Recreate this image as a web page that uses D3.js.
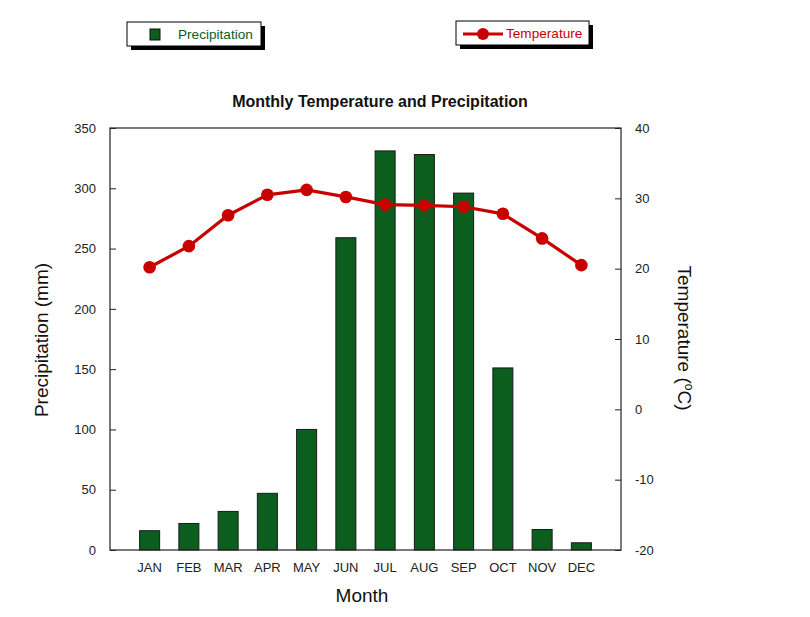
<!DOCTYPE html>
<html><head><meta charset="utf-8">
<script src="https://cdn.jsdelivr.net/npm/d3@7/dist/d3.min.js"></script>
<style>body{margin:0;background:#fff;} text{font-family:"Liberation Sans",Arial,sans-serif;}</style>
</head><body><svg id="c" width="810" height="617"></svg>
<script>
const months = ["JAN","FEB","MAR","APR","MAY","JUN","JUL","AUG","SEP","OCT","NOV","DEC"];
const precipitation = [16,22,32,47,100,259,331,328,296,151,17,6];
const temperature = [20.2,23.2,27.6,30.5,31.2,30.2,29.1,29.0,28.8,27.8,24.3,20.5];
const precipTicks = [0,50,100,150,200,250,300,350];
const tempTicks = [-20,-10,0,10,20,30,40];

const svg = d3.select("#c");
const L=110, R=621, T=128, B=550;
const x = d3.scaleBand().domain(months).range([L+20, R-20]).paddingInner(0.49).paddingOuter(0.245);
const yP = d3.scaleLinear().domain([0,350]).range([B,T]);
const yT = d3.scaleLinear().domain([-20,40]).range([B,T]);
const barColor = "#0b5e1e", lineColor = "#c80000";

// bars
svg.append("g").selectAll("rect").data(months).join("rect")
  .attr("x", d=>x(d)).attr("width", x.bandwidth())
  .attr("y", (d,i)=>yP(precipitation[i])).attr("height",(d,i)=>B-yP(precipitation[i]))
  .attr("fill", barColor).attr("stroke","#1a1a1a").attr("stroke-width",1);

// frame
svg.append("rect").attr("x",L).attr("y",T).attr("width",R-L).attr("height",B-T)
  .attr("fill","none").attr("stroke","#222").attr("stroke-width",1.2);

const fmt = d=>String(d);
// left axis
const la = svg.append("g").attr("transform",`translate(${L},0)`)
  .call(d3.axisLeft(yP).tickValues(precipTicks).tickFormat(fmt).tickSize(-6).tickPadding(14));
la.select(".domain").remove();
la.selectAll("text").attr("font-size",13).attr("fill","#222").style("font-family","Liberation Sans, Arial");
la.selectAll("line").attr("stroke","#222");

// right axis
const ra = svg.append("g").attr("transform",`translate(${R},0)`)
  .call(d3.axisRight(yT).tickValues(tempTicks).tickFormat(fmt).tickSize(-6).tickPadding(14));
ra.select(".domain").remove();
ra.selectAll("text").attr("font-size",13).attr("fill","#222").style("font-family","Liberation Sans, Arial");
ra.selectAll("line").attr("stroke","#222");

// bottom axis
const ba = svg.append("g").attr("transform",`translate(0,${B})`)
  .call(d3.axisBottom(x).tickSize(0).tickPadding(13));
ba.select(".domain").remove();
ba.selectAll("text").attr("font-size",13).attr("fill","#222").style("font-family","Liberation Sans, Arial");

// line
const cx = d=>x(d)+x.bandwidth()/2;
svg.append("path").datum(months)
  .attr("d", d3.line().x(d=>cx(d)).y((d,i)=>yT(temperature[i])))
  .attr("fill","none").attr("stroke",lineColor).attr("stroke-width",3.2);
svg.append("g").selectAll("circle").data(months).join("circle")
  .attr("cx", d=>cx(d)).attr("cy",(d,i)=>yT(temperature[i])).attr("r",6.3).attr("fill",lineColor);

// title & labels
svg.append("text").attr("x",380).attr("y",107).attr("text-anchor","middle")
  .attr("font-size",16).attr("font-weight","bold").attr("fill","#111").text("Monthly Temperature and Precipitation");
svg.append("text").attr("x",362).attr("y",602).attr("text-anchor","middle")
  .attr("font-size",19).attr("fill","#111").text("Month");
svg.append("text").attr("transform","translate(48,340) rotate(-90)").attr("text-anchor","middle")
  .attr("font-size",19).attr("fill","#111").text("Precipitation (mm)");
const tl = svg.append("text").attr("transform","translate(678,338) rotate(90)").attr("text-anchor","middle")
  .attr("font-size",19).attr("fill","#111");
tl.append("tspan").text("Temperature (");
tl.append("tspan").attr("font-size",12).attr("dy",-7).text("o");
tl.append("tspan").attr("dy",7).text("C)");

// legends
function legendBox(x0,y0,w,h){
  svg.append("rect").attr("x",x0+4).attr("y",y0+4).attr("width",w).attr("height",h).attr("fill","#000");
  svg.append("rect").attr("x",x0).attr("y",y0).attr("width",w).attr("height",h).attr("fill","#fff").attr("stroke","#000").attr("stroke-width",1);
}
legendBox(127,22,134,24);
svg.append("rect").attr("x",150).attr("y",29).attr("width",10).attr("height",11).attr("fill",barColor).attr("stroke","#111");
svg.append("text").attr("x",178).attr("y",39).attr("font-size",13.6).attr("fill",barColor).text("Precipitation");

legendBox(456,21,133,24);
svg.append("line").attr("x1",463).attr("x2",503).attr("y1",34).attr("y2",34).attr("stroke",lineColor).attr("stroke-width",3);
svg.append("circle").attr("cx",483).attr("cy",34).attr("r",6).attr("fill",lineColor);
svg.append("text").attr("x",506).attr("y",38).attr("font-size",13.6).attr("fill",lineColor).text("Temperature");
</script></body></html>
